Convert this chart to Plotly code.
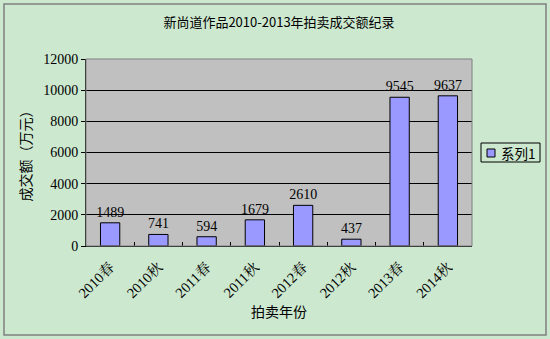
import plotly.graph_objects as go

categories = ["2010春", "2010秋", "2011春", "2011秋", "2012春", "2012秋", "2013春", "2014秋"]
values = [1489, 741, 594, 1679, 2610, 437, 9545, 9637]
series_name = "系列1"
title_text = "新尚道作品2010-2013年拍卖成交额纪录"
y_title = "成交额（万元）"
x_title = "拍卖年份"
y_ticks = [0, 2000, 4000, 6000, 8000, 10000, 12000]
y_tick_labels = [str(v) for v in y_ticks]

serif = "Liberation Serif, Noto Serif CJK SC, Noto Sans CJK SC, serif"
sans = "Noto Sans CJK SC, sans-serif"
bar_color = "#9999FF"

fig = go.Figure()
fig.add_trace(go.Bar(
    x=categories, y=values, name=series_name,
    marker=dict(color=bar_color, line=dict(color="#000000", width=1)),
    text=[str(v) for v in values], textposition="outside",
    constraintext="none",
    textfont=dict(family=serif, size=14, color="#000000"),
    cliponaxis=False, showlegend=False,
))

L, R, T, B = 86, 472, 59, 246
W, H = 550, 339
pw, ph = R - L, B - T

def px(x):
    return (x - L) / pw

def py(y):
    return (B - y) / ph

fig.update_layout(
    width=W, height=H,
    margin=dict(l=L, r=W - R, t=T, b=H - B, autoexpand=False),
    paper_bgcolor="#CCE8CF",
    plot_bgcolor="#C0C0C0",
    bargap=0.6,
    showlegend=False,
    title=dict(text=title_text, x=0.5, xref="paper", xanchor="center",
               y=1 - 22 / H, yanchor="middle",
               font=dict(family=sans, size=13, color="#000000")),
    font=dict(family=serif, size=12, color="#000000"),
    xaxis=dict(
        type="category", tickangle=-45, tickson="boundaries",
        ticks="inside", ticklen=4, tickcolor="#000000",
        showline=True, linecolor="#000000", linewidth=1,
        tickfont=dict(family=serif, size=14.5, color="#000000"),
        ticklabelstandoff=6,
        title=dict(text=x_title, font=dict(family=sans, size=14, color="#000000"), standoff=6),
        automargin=False,
    ),
    yaxis=dict(
        range=[0, 12000], tickvals=y_ticks, ticktext=y_tick_labels,
        ticks="outside", ticklen=4, tickcolor="#000000",
        showgrid=True, gridcolor="#000000", gridwidth=1,
        showline=True, linecolor="#000000", linewidth=1,
        zeroline=False,
        tickfont=dict(family=serif, size=14, color="#000000"),
        title=dict(text=y_title, font=dict(family=sans, size=14, color="#000000"), standoff=8),
        automargin=False,
    ),
    shapes=[
        dict(type="rect", xref="paper", yref="paper",
             x0=px(4), x1=px(546), y0=py(335), y1=py(4),
             line=dict(color="#808080", width=1.5), fillcolor="rgba(0,0,0,0)", layer="above"),
        dict(type="rect", xref="paper", yref="paper", x0=0, x1=1, y0=0, y1=1,
             line=dict(color="#808080", width=1), layer="above"),
        # legend box
        dict(type="rect", xref="paper", yref="paper",
             x0=px(481), x1=px(540), y0=py(162), y1=py(143),
             line=dict(color="#000000", width=1), fillcolor="rgba(0,0,0,0)"),
        dict(type="rect", xref="paper", yref="paper",
             x0=px(487), x1=px(495), y0=py(157), y1=py(149),
             line=dict(color="#000000", width=1), fillcolor=bar_color),
    ],
    annotations=[
        dict(text=series_name, xref="paper", yref="paper", x=px(499), y=py(152.5),
             xanchor="left", yanchor="middle", showarrow=False,
             font=dict(family=sans, size=13.5, color="#000000")),
    ],
)

fig.write_html("out.html")
